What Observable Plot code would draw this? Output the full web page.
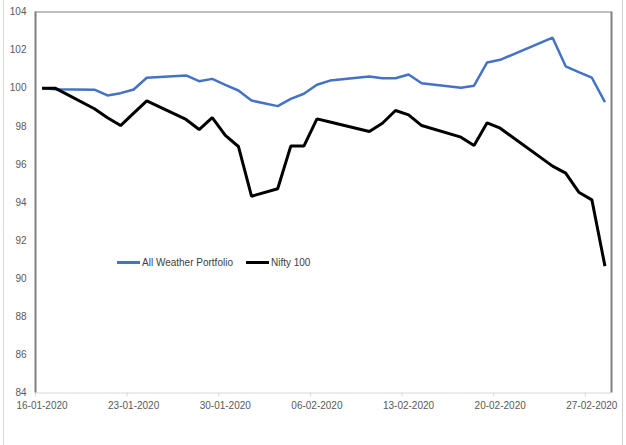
<!DOCTYPE html>
<html>
<head>
<meta charset="utf-8">
<script src="https://cdn.jsdelivr.net/npm/d3@7"></script>
<script src="https://cdn.jsdelivr.net/npm/@observablehq/plot@0.6"></script>
<style>
  html, body { margin: 0; padding: 0; background: #fff; }
  #wrap { position: relative; width: 626px; height: 445px; overflow: hidden; }
  #edgeL { position: absolute; left: 3px; top: 0; width: 1px; height: 445px; background: #d9d9d9; }
  #edgeR { position: absolute; left: 622px; top: 0; width: 1px; height: 445px; background: #d0d0d0; }
  #legend { position: absolute; top: 257px; left: 117px; font-family: "Liberation Sans", Arial, sans-serif;
            font-size: 10px; color: #404040; display: flex; align-items: center; white-space: nowrap; }
  .sw { display: inline-block; width: 23px; margin-right: 2px; }
  .item { display: flex; align-items: center; margin-right: 13px; }
</style>
</head>
<body>
<div id="wrap">
  <div id="chart"></div>
  <div id="edgeL"></div>
  <div id="edgeR"></div>
  <div id="legend"></div>
</div>
<script>
const dates = ["2020-01-16","2020-01-17","2020-01-20","2020-01-21","2020-01-22","2020-01-23","2020-01-24",
  "2020-01-27","2020-01-28","2020-01-29","2020-01-30","2020-01-31","2020-02-01","2020-02-03","2020-02-04",
  "2020-02-05","2020-02-06","2020-02-07","2020-02-10","2020-02-11","2020-02-12","2020-02-13","2020-02-14",
  "2020-02-17","2020-02-18","2020-02-19","2020-02-20","2020-02-24","2020-02-25","2020-02-26","2020-02-27","2020-02-28"];
const allWeather = [100.0, 99.95, 99.92, 99.62, 99.74, 99.93, 100.55, 100.67, 100.37, 100.49, 100.17, 99.88,
  99.35, 99.06, 99.44, 99.71, 100.18, 100.4, 100.61, 100.52, 100.52, 100.72, 100.26, 100.02, 100.13,
  101.35, 101.49, 102.65, 101.15, 100.84, 100.55, 99.27];
const nifty100 = [100.0, 100.0, 98.92, 98.45, 98.04, 98.69, 99.33, 98.36, 97.83, 98.45, 97.52, 96.94,
  94.33, 94.72, 96.96, 96.96, 98.39, 98.23, 97.73, 98.16, 98.83, 98.6, 98.04, 97.43, 96.99,
  98.18, 97.9, 95.91, 95.54, 94.54, 94.14, 90.66];
const seriesNames = ["All Weather Portfolio", "Nifty 100"];
const seriesColors = ["#4472C4", "#000000"];
const xTickLabels = ["16-01-2020","23-01-2020","30-01-2020","06-02-2020","13-02-2020","20-02-2020","27-02-2020"];
const yTicks = [84, 86, 88, 90, 92, 94, 96, 98, 100, 102, 104];
const xDomain = ["2020-01-16", "2020-02-29"];

const parse = d3.utcParse("%Y-%m-%d");
const parseLabel = d3.utcParse("%d-%m-%Y");
const HALF_DAY = 12 * 3600 * 1000;
// Excel date axis places each point in the middle of its day slot
const rows = [];
dates.forEach((d, i) => {
  const t = new Date(parse(d).getTime() + HALF_DAY);
  rows.push({date: t, value: allWeather[i], series: seriesNames[0]});
  rows.push({date: t, value: nifty100[i], series: seriesNames[1]});
});
const xTicks = xTickLabels.map(parseLabel);
const x0 = parse(xDomain[0]), x1 = parse(xDomain[1]);

const font = '"Liberation Sans", Arial, sans-serif';
const chart = Plot.plot({
  width: 626,
  height: 445,
  marginLeft: 35,
  marginRight: 15,
  marginTop: 11.5,
  marginBottom: 52.5,
  style: {fontFamily: font, fontSize: "10px", color: "#595959", background: "#fff"},
  x: {type: "utc", domain: [x0, x1]},
  y: {domain: [84, 104]},
  color: {domain: seriesNames, range: seriesColors},
  marks: [
    Plot.axisY({ticks: yTicks, tickSize: 0, tickPadding: 9, label: null, fill: "#595959"}),
    Plot.ruleY([84], {stroke: "#d9d9d9", strokeWidth: 1}),
    Plot.axisX({ticks: xTicks, tickSize: 4, text: null, label: null, stroke: "#d9d9d9"}),
    Plot.axisX({ticks: xTicks, tickFormat: d3.utcFormat("%d-%m-%Y"), tickSize: 0, tickPadding: 9,
                dx: 6.5, label: null, fill: "#595959"}),
    Plot.ruleY([104], {stroke: "#808080", strokeWidth: 1}),
    Plot.ruleX([x0], {stroke: "#7f7f7f", strokeWidth: 2}),
    Plot.ruleX([x1], {stroke: "#7f7f7f", strokeWidth: 2}),
    Plot.line(rows, {x: "date", y: "value", z: "series", stroke: "series",
                     strokeWidth: d => d.series === seriesNames[1] ? 3 : 2.5,
                     strokeLinejoin: "miter", strokeLinecap: "butt"})
  ]
});
document.getElementById("chart").appendChild(chart);

const legend = document.getElementById("legend");
seriesNames.forEach((name, i) => {
  const item = document.createElement("div");
  item.className = "item";
  const sw = document.createElement("span");
  sw.className = "sw";
  sw.style.height = (i === 1 ? 3 : 2.5) + "px";
  sw.style.background = seriesColors[i];
  const label = document.createElement("span");
  label.textContent = name;
  item.appendChild(sw);
  item.appendChild(label);
  legend.appendChild(item);
});
</script>
</body>
</html>
